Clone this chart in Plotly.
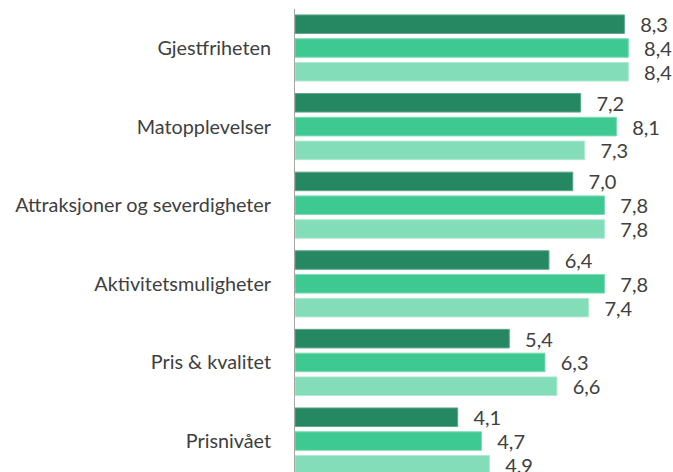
import plotly.graph_objects as go

categories = ["Gjestfriheten", "Matopplevelser", "Attraksjoner og severdigheter",
              "Aktivitetsmuligheter", "Pris & kvalitet", "Prisnivået"]
series_a = [8.3, 7.2, 7.0, 6.4, 5.4, 4.1]
series_b = [8.4, 8.1, 7.8, 7.8, 6.3, 4.7]
series_c = [8.4, 7.3, 7.8, 7.4, 6.6, 4.9]
series_names = ["Serie 1", "Serie 2", "Serie 3"]
colors = ["#268763", "#3ec992", "#82ddb8"]
edge_colors = ["#5fa88a", "#7edbb4", "#b0ead2"]

positions = list(range(len(categories)))

fig = go.Figure()
for name, vals, col, edge in zip(series_names, [series_a, series_b, series_c], colors, edge_colors):
    fig.add_trace(go.Bar(
        x=vals, y=positions, orientation="h", name=name,
        marker=dict(color=col, line=dict(color=edge, width=1)),
        text=[f"{v:.1f}".replace(".", ",") for v in vals],
        texttemplate="\u00a0\u00a0\u2009%{text}",
        textposition="outside", cliponaxis=False, constraintext="none",
        textfont=dict(family="Lato", size=20, color="#404040"),
        hoverinfo="skip",
    ))

fig.update_layout(
    width=673, height=472,
    margin=dict(l=295, r=1, t=9, b=0, autoexpand=False),
    barmode="group", bargap=0.092, bargroupgap=0.22,
    showlegend=False,
    plot_bgcolor="white", paper_bgcolor="white",
    font=dict(family="Lato", size=20, color="#404040"),
)
fig.update_xaxes(range=[0, 9.5], visible=False, automargin=False)
fig.update_yaxes(
    tickmode="array", tickvals=positions, ticktext=categories,
    range=[5.394, -0.496], showgrid=False, zeroline=False,
    showline=True, linecolor="#a6a6a6", linewidth=1,
    ticks="", ticklabelstandoff=19, automargin=False,
    tickfont=dict(family="Lato", size=19.8, color="#404040"),
)

fig.write_html("out.html", config={"displayModeBar": False},
               post_script="document.body.style.margin='0';document.body.style.overflow='hidden';")
